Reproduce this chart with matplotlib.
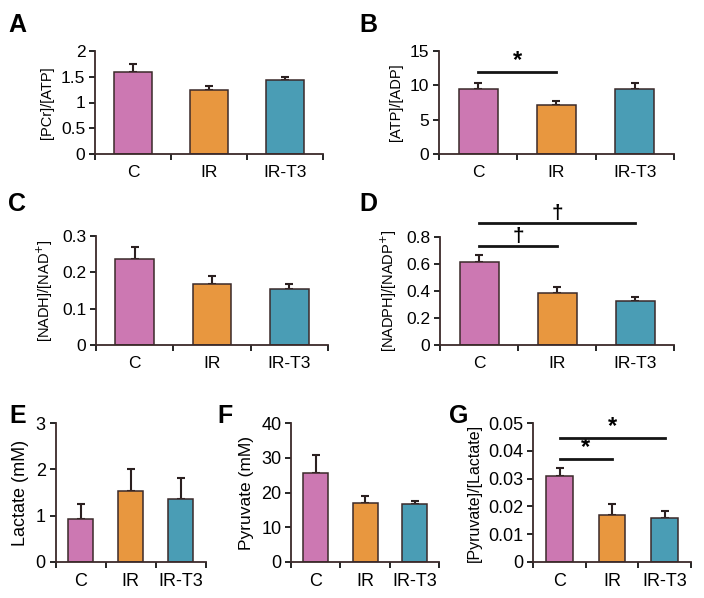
import matplotlib.pyplot as plt
from matplotlib.ticker import FixedLocator, FuncFormatter

plt.rcParams["font.family"] = ["Liberation Sans", "DejaVu Sans"]

groups = ["C", "IR", "IR-T3"]
colors = ["#cc78b2", "#e8973f", "#4a9db5"]

pcr_atp = [1.59, 1.24, 1.43]
pcr_atp_err = [0.15, 0.08, 0.06]
atp_adp = [9.4, 7.1, 9.4]
atp_adp_err = [1.0, 0.55, 0.9]
nadh_nad = [0.236, 0.167, 0.153]
nadh_nad_err = [0.035, 0.024, 0.014]
nadph_nadp = [0.613, 0.385, 0.326]
nadph_nadp_err = [0.057, 0.045, 0.032]
lactate = [0.93, 1.53, 1.36]
lactate_err = [0.31, 0.47, 0.45]
pyruvate = [25.6, 17.1, 16.7]
pyruvate_err = [5.2, 1.8, 0.9]
pyr_lac = [0.0309, 0.0167, 0.0157]
pyr_lac_err = [0.0030, 0.0043, 0.0027]

# significance brackets: (from group, to group, height, symbol)
sig_b = [(0, 1, 11.9, "*")]
sig_d = [(0, 1, 0.734, "\u2020"), (0, 2, 0.903, "\u2020")]
sig_g = [(0, 1, 0.037, "*"), (0, 2, 0.0448, "*")]

W, H = 704, 598
fig = plt.figure(figsize=(W / 100, H / 100), dpi=100)


def px_axes(left, right, top, bottom):
    return fig.add_axes([left / W, 1 - bottom / H, (right - left) / W, (bottom - top) / H])


def bar_panel(ax, vals, errs, ymax, step, ylabel, fs=12.5, lfs=10.5, sig=(), sig_fs=17):
    x = list(range(len(groups)))
    ax.bar(x, vals, width=0.5, color=colors, edgecolor="#3b2a2a", linewidth=1.1, zorder=2)
    ax.errorbar(x, vals, yerr=[[0] * len(errs), errs], fmt="none", ecolor="#2b2020",
                elinewidth=1.5, capsize=3, capthick=1.5, zorder=1)
    ax.set_xlim(-0.5, len(groups) - 0.5)
    ax.set_ylim(0, ymax)
    n = int(round(ymax / step))
    ax.yaxis.set_major_locator(FixedLocator([i * step for i in range(n + 1)]))
    ax.yaxis.set_major_formatter(FuncFormatter(lambda v, p: "%g" % round(v, 6)))
    ax.xaxis.set_major_locator(FixedLocator([i - 0.5 for i in range(len(groups) + 1)]))
    ax.xaxis.set_major_formatter(FuncFormatter(lambda v, p: ""))
    ax.xaxis.set_minor_locator(FixedLocator(x))
    ax.set_xticklabels(groups, minor=True)
    ax.tick_params(axis="x", which="minor", length=0, labelsize=fs, pad=8)
    ax.tick_params(axis="x", which="major", length=4, width=1.2, direction="out")
    ax.tick_params(axis="y", length=4, width=1.2, direction="out", labelsize=fs, pad=3)
    for s in ["top", "right"]:
        ax.spines[s].set_visible(False)
    for s in ["left", "bottom"]:
        ax.spines[s].set_linewidth(1.3)
        ax.spines[s].set_color("#3b2a2a")
    ax.set_ylabel(ylabel, fontsize=lfs, labelpad=5)
    for i, j, h, sym in sig:
        ax.plot([i, j], [h, h], color="#151515", linewidth=2, clip_on=False, zorder=3)
        ax.text((i + j) / 2, h, sym, ha="center", va="bottom", fontsize=sig_fs,
                fontweight="bold", clip_on=False)


ax_a = px_axes(95, 323, 51, 154)
bar_panel(ax_a, pcr_atp, pcr_atp_err, 2, 0.5, "[PCr]/[ATP]")
ax_b = px_axes(439, 674, 51, 154)
bar_panel(ax_b, atp_adp, atp_adp_err, 15, 5, "[ATP]/[ADP]", sig=sig_b)
ax_c = px_axes(96, 328, 236, 345)
bar_panel(ax_c, nadh_nad, nadh_nad_err, 0.3, 0.1, "[NADH]/[NAD$^{+}$]")
ax_d = px_axes(440, 674, 237, 345)
bar_panel(ax_d, nadph_nadp, nadph_nadp_err, 0.8, 0.2, "[NADPH]/[NADP$^{+}$]", sig=sig_d, sig_fs=15)
ax_e = px_axes(55.5, 206, 423.3, 561.7)
bar_panel(ax_e, lactate, lactate_err, 3, 1, "Lactate (mM)", fs=13, lfs=13)
ax_f = px_axes(291, 439.3, 423.3, 561.7)
bar_panel(ax_f, pyruvate, pyruvate_err, 40, 10, "Pyruvate (mM)", fs=13, lfs=12.5)
ax_g = px_axes(533.3, 690.8, 423.3, 561.7)
bar_panel(ax_g, pyr_lac, pyr_lac_err, 0.05, 0.01, "[Pyruvate]/[Lactate]", fs=13, lfs=11.5, sig=sig_g)

for letter, x, y in [("A", 8, 32), ("B", 359, 32), ("C", 8, 211), ("D", 359, 211),
                     ("E", 9, 423), ("F", 217, 423), ("G", 449, 423)]:
    fig.text(x / W, 1 - y / H, letter, fontsize=18, fontweight="bold", ha="left", va="baseline")

fig.savefig("out.png", dpi=100)
